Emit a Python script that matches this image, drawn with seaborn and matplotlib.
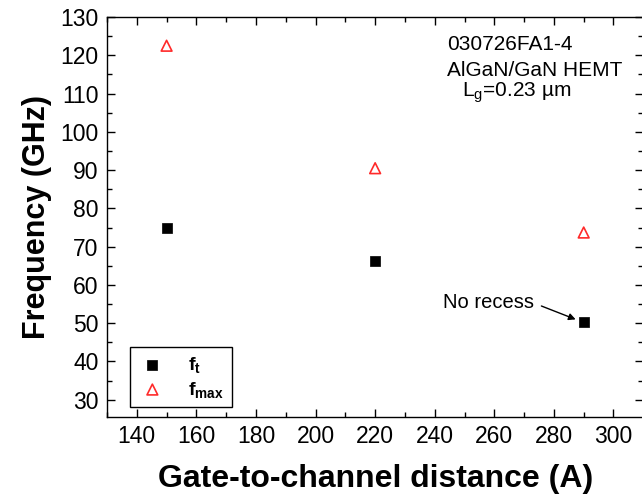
import matplotlib
matplotlib.use("Agg")
import matplotlib.pyplot as plt
import seaborn as sns
import pandas as pd
from matplotlib.ticker import MultipleLocator

sns.set_style("ticks")
plt.rcParams['font.family'] = ['Liberation Sans', 'DejaVu Sans']
plt.rcParams['mathtext.fontset'] = 'custom'
plt.rcParams['mathtext.rm'] = 'Liberation Sans'
plt.rcParams['mathtext.bf'] = 'Liberation Sans:bold'
plt.rcParams['mathtext.it'] = 'Liberation Sans:italic'
for k in ['text.color', 'axes.labelcolor', 'xtick.color', 'ytick.color', 'axes.edgecolor']:
    plt.rcParams[k] = 'black'

distance = [150, 220, 290]
ft = [75, 66.3, 50.3]
fmax = [122.5, 90.5, 73.7]

df = pd.DataFrame({"d": distance, "ft": ft, "fmax": fmax})

fig = plt.figure(figsize=(6.42, 5.0), dpi=100)
ax = fig.add_axes([107/642, 1-417/500, (642-107)/642 + 0.002, 400/500])

sns.scatterplot(data=df, x="d", y="ft", ax=ax, marker="s", s=55, color="black",
                edgecolor="black", linewidth=0.5, label=r"$\mathbf{f}_{\mathbf{t}}$", zorder=3)
sns.scatterplot(data=df, x="d", y="fmax", ax=ax, marker="^", s=60, facecolor="none",
                edgecolor="#ff2a2a", linewidth=1.2, label=r"$\mathbf{f}_{\mathbf{max}}$", zorder=3)

ax.set_xlim(130, 310)
ax.set_ylim(25.5, 130)
ax.xaxis.set_major_locator(MultipleLocator(20))
ax.xaxis.set_minor_locator(MultipleLocator(10))
ax.yaxis.set_major_locator(MultipleLocator(10))
ax.yaxis.set_minor_locator(MultipleLocator(5))
ax.tick_params(which="both", direction="in", top=True, right=True, width=1, colors="black")
ax.tick_params(which="major", length=6, labelsize=16.5, pad=6)
ax.tick_params(which="minor", length=3.5)
for sp in ax.spines.values():
    sp.set_visible(True)
    sp.set_linewidth(1.0)
    sp.set_color("black")

ax.set_xlabel("Gate-to-channel distance (A)", fontsize=23, fontweight="bold", labelpad=11)
ax.set_ylabel("Frequency (GHz)", fontsize=22, fontweight="bold", labelpad=6)

ax.text(447/642, 1-45/500, "030726FA1-4", transform=fig.transFigure, fontsize=15, va="center", ha="left")
ax.text(447/642, 1-70/500, "AlGaN/GaN HEMT", transform=fig.transFigure, fontsize=15, va="center", ha="left")
ax.text(462/642, 1-93/500, r"L$_\mathregular{g}$=0.23 µm", transform=fig.transFigure, fontsize=15, va="center", ha="left")

ax.text(242.8, 55.3, "No recess", fontsize=14.5, ha="left", va="center")
ax.annotate("", xy=(287.3, 51.0), xytext=(275.8, 54.5),
            arrowprops=dict(arrowstyle="-|>", color="black", lw=1.0, mutation_scale=10, shrinkA=0, shrinkB=0))

leg = ax.legend(loc="upper left", bbox_to_anchor=(130/642, 1-347/500), bbox_transform=fig.transFigure,
                frameon=True, fancybox=False, edgecolor="black", fontsize=14,
                handletextpad=1.1, handlelength=1.5, borderpad=0.4, labelspacing=0.25,
                borderaxespad=0, markerscale=1.0)
leg.get_frame().set_linewidth(1.0)
leg.get_frame().set_alpha(1.0)

fig.savefig("out.png", dpi=100)
